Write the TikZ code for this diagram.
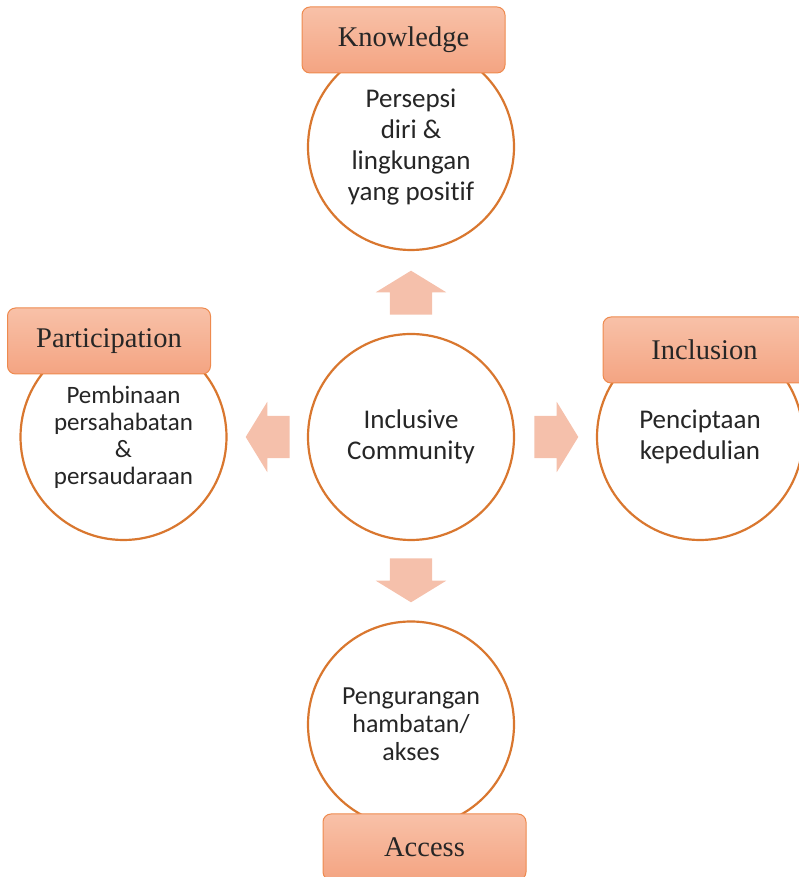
\documentclass[tikz,border=0pt]{standalone}
\usepackage{fontspec}
\newfontfamily\calibri[Ligatures=NoCommon]{Carlito}
\newfontfamily\antiqua{Liberation Serif}
\usetikzlibrary{positioning,calc,shapes.arrows}
\definecolor{ringorange}{HTML}{D9772F}
\definecolor{boxorange}{HTML}{EE8A4E}
\definecolor{boxtop}{HTML}{F8C1A8}
\definecolor{boxbottom}{HTML}{F4A482}
\definecolor{arrowpink}{HTML}{F5C0AB}
\definecolor{textgray}{HTML}{262626}
\begin{document}
\begin{tikzpicture}[x=1pt, y=1pt,
      ring/.style = {circle, draw=ringorange, line width=2.2pt, fill=white,
        minimum size=206pt, inner sep=0pt, align=center, text=textgray,
        font=\calibri\fontsize{27}{31}\selectfont},
      headbox/.style = {rectangle, rounded corners=8pt, draw=boxorange,
        line width=1pt, top color=boxtop, bottom color=boxbottom,
        minimum width=203pt, minimum height=66pt, text=textgray,
        font=\antiqua\fontsize{28.5}{32}\selectfont},
      push/.style = {single arrow, fill=arrowpink, draw=none, anchor=tail,
        minimum height=44pt, minimum width=70pt,
        single arrow head extend=14pt, single arrow tip angle=117},
      upright/.style = {push, inner xsep=21pt, inner ysep=0pt},
      sideways/.style = {push, inner xsep=0pt, inner ysep=21pt}]
      \useasboundingbox (0,0) rectangle (799,877);
      % circles
      \node[ring] (hub) at (411,440) {Inclusive\\Community};
      \node[ring, above=81.8pt of hub] (persepsi) {Persepsi\\diri \&\\lingkungan\\yang positif};
      \node[ring, left=79.3pt of hub, font=\calibri\fontsize{25}{27}\selectfont] (pembinaan)
        {Pembinaan\\persahabatan\\\&\\persaudaraan};
      \node[ring, right=80.8pt of hub] (kepedulian) {Penciptaan\\kepedulian};
      \node[ring, below=79.3pt of hub, font=\calibri\fontsize{26}{28}\selectfont] (hambatan)
        {Pengurangan\\hambatan/\\akses};
      % headings
      \node[headbox, above=-30.6pt of persepsi, xshift=-7.5pt] (knowledge) {Knowledge};
      \node[headbox, above=-41.6pt of pembinaan, xshift=-14.5pt] (participation) {Participation};
      \node[headbox, above=-50.6pt of kepedulian, xshift=4.5pt] (inclusion) {Inclusion};
      \node[headbox, below=-15.1pt of hambatan, xshift=13.5pt] (access) {Access};
      % arrows
      \node[upright, shape border rotate=90] (toknow) at ([yshift=18pt]hub.north) {};
      \node[sideways, shape border rotate=180] (topart) at ([xshift=-17pt]hub.west) {};
      \node[sideways, shape border rotate=0] (toincl) at ([xshift=19pt]hub.east) {};
      \node[upright, shape border rotate=270] (toacc) at ([yshift=-17pt]hub.south) {};
    \end{tikzpicture}
\end{document}
